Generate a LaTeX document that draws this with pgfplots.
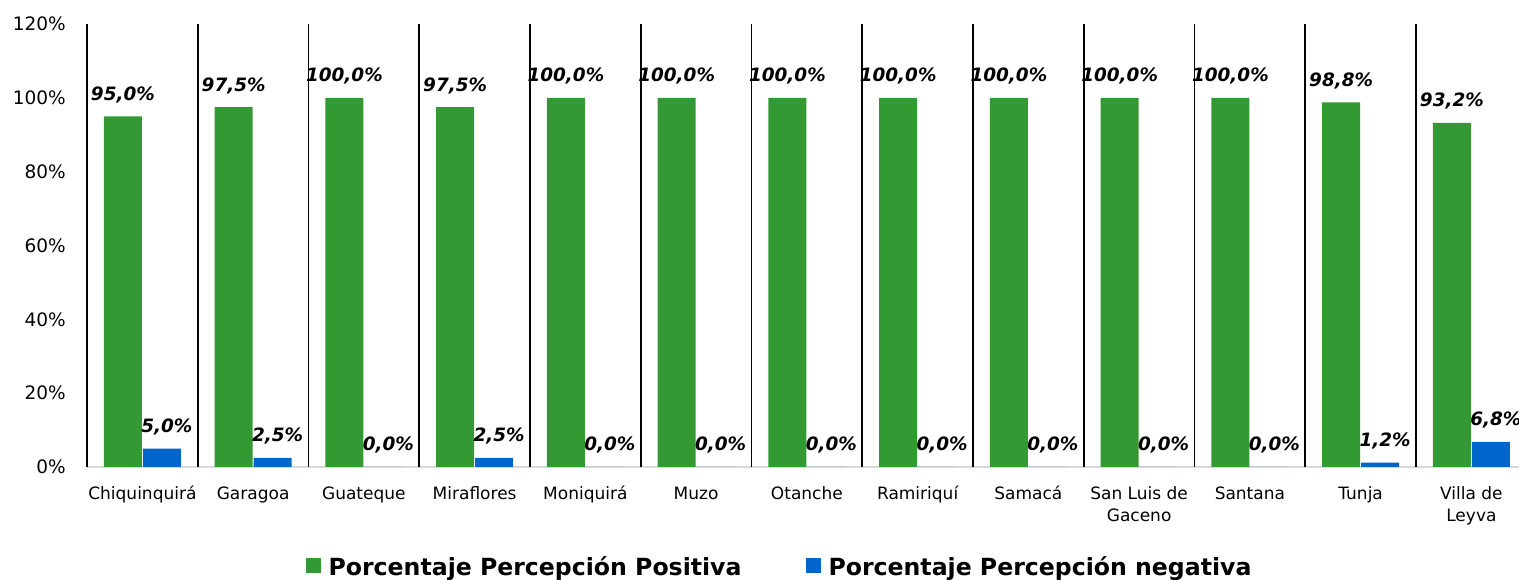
\documentclass[border=0pt]{standalone}
\usepackage{fontspec}
\setmainfont{DejaVu Sans}
\usepackage{pgfplots}
\pgfplotsset{compat=1.18}
\definecolor{pgreen}{HTML}{339933}
\definecolor{nblue}{HTML}{0066CC}
\begin{document}
\begin{tikzpicture}[x=1pt,y=1pt]
\useasboundingbox (0,0) rectangle (1519,580);
\begin{axis}[
  at={(87pt,113pt)}, anchor=south west,
  scale only axis, width=1439.75pt, height=443pt,
  xmin=-0.5, xmax=12.5, ymin=0, ymax=120,
  ybar=1pt, bar width=38pt,
  axis lines=left,
  axis line style={-},
  x axis line style={draw=black!15, line width=2pt},
  y axis line style={draw=black, line width=2pt},
  major tick length=0pt,
  xtick={0,...,12},
  xticklabels={{\strut Chiquinquirá},{\strut Garagoa},{\strut Guateque},{\strut Miraflores},{\strut Moniquirá},{\strut Muzo},{\strut Otanche},{\strut Ramiriquí},{\strut Samacá},{\strut San Luis de\\Gaceno},{\strut Santana},{\strut Tunja},{\strut Villa de\\Leyva}},
  xticklabel style={font=\fontsize{17}{22}\selectfont, align=center, anchor=north, inner sep=0pt, yshift=-17pt},
  extra x ticks={0.5,1.5,...,11.5},
  extra x tick labels={},
  extra x tick style={grid=major, major grid style={draw=black, line width=1.8pt}},
  ytick={0,20,...,120},
  yticklabel={\pgfmathprintnumber{\tick}\%},
  yticklabel style={font=\fontsize{18.5}{22}\selectfont, anchor=east, inner sep=0pt, xshift=-21pt},
  /pgf/number format/assume math mode=true,
  nodes near coords={\pgfmathprintnumber[fixed,fixed zerofill,precision=1,use comma]{\pgfplotspointmeta}\%},
  every node near coord/.append style={font=\fontsize{18.4}{20}\selectfont\bfseries\itshape, anchor=base, inner sep=0pt, yshift=16pt, text=black},
  legend style={at={(0.481,-0.2257)}, anchor=center, legend columns=2, draw=none, fill=none,
    font=\fontsize{23.6}{26}\selectfont\bfseries,
    /tikz/every even column/.append style={column sep=62pt}},
  clip=false,
]
\addplot[fill=pgreen, draw=none,
  legend image code/.code={\fill[pgreen] (0pt,-6pt) rectangle (15pt,9pt); \path (0pt,0pt) -- (21pt,0pt);}]
  coordinates {(0,95.0) (1,97.5) (2,100.0) (3,97.5) (4,100.0) (5,100.0) (6,100.0) (7,100.0) (8,100.0) (9,100.0) (10,100.0) (11,98.8) (12,93.2)};
\addplot[fill=nblue, draw=none,
  every node near coord/.append style={xshift=5pt},
  legend image code/.code={\fill[nblue] (0pt,-6pt) rectangle (15pt,9pt); \path (0pt,0pt) -- (21pt,0pt);}]
  coordinates {(0,5.0) (1,2.5) (2,0.0) (3,2.5) (4,0.0) (5,0.0) (6,0.0) (7,0.0) (8,0.0) (9,0.0) (10,0.0) (11,1.2) (12,6.8)};
\legend{Porcentaje Percepción Positiva, Porcentaje Percepción negativa}
\end{axis}
\end{tikzpicture}
\end{document}
